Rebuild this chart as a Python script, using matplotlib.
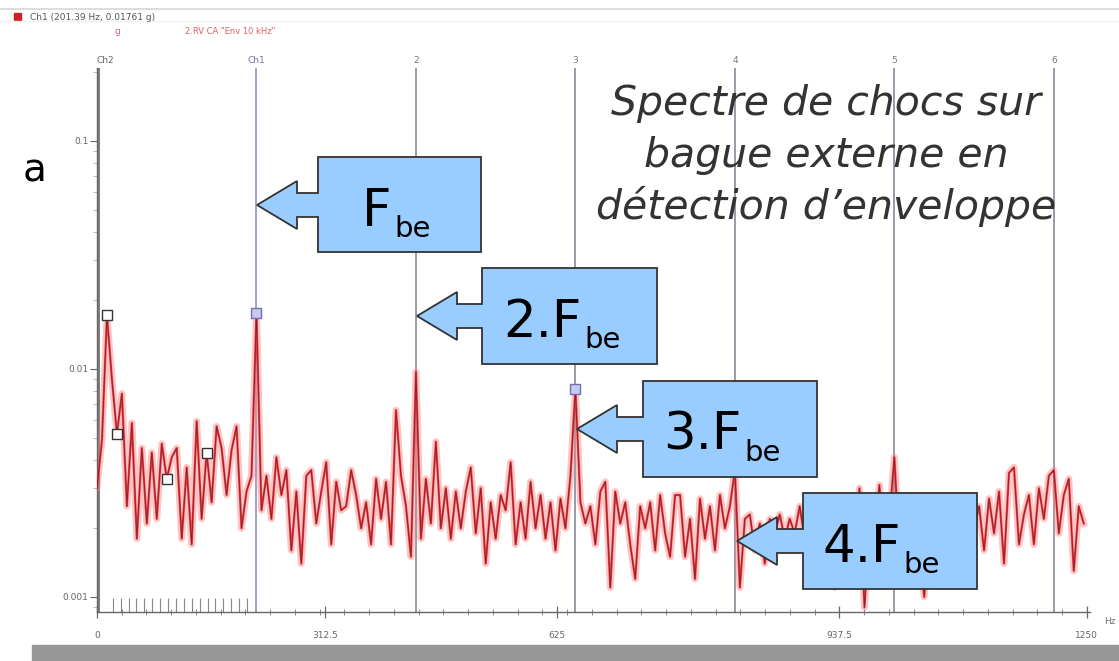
import numpy as np
import matplotlib
matplotlib.use("Agg")
import matplotlib.pyplot as plt
from matplotlib.patches import Polygon, Rectangle
from matplotlib.ticker import MultipleLocator, FixedLocator

plt.rcParams['font.family'] = ['DejaVu Sans']

W, H = 1119, 661

# ---- data -----------------------------------------------------------------
f_be = 201.39          # outer-race defect frequency (Hz)
f_be_amp = 0.01761     # amplitude at f_be (g)
df = f_be / 32         # spectral line spacing (Hz)

# envelope spectrum amplitude (g), one value per spectral line
amp = [
    0.0030, 0.0049, 0.0172, 0.0090, 0.0052, 0.0078, 0.0025, 0.0058, 0.0018, 0.0045,
    0.0021, 0.0043, 0.0022, 0.0047, 0.0033, 0.0041, 0.0045, 0.0018, 0.0037, 0.0017,
    0.0059, 0.0022, 0.0043, 0.0026, 0.0056, 0.0045, 0.0028, 0.0044, 0.0056, 0.0020,
    0.0029, 0.0034, f_be_amp, 0.0024, 0.0034, 0.0022, 0.0041, 0.0028, 0.0036, 0.0016,
    0.0029, 0.0014, 0.0034, 0.0036, 0.0021, 0.0029, 0.0039, 0.0017, 0.0032, 0.0024,
    0.0025, 0.0036, 0.0028, 0.0020, 0.0026, 0.0017, 0.0033, 0.0022, 0.0032, 0.0017,
    0.0066, 0.0034, 0.0025, 0.0015, 0.0097, 0.0018, 0.0033, 0.0021, 0.0048, 0.0020,
    0.0030, 0.0018, 0.0029, 0.0020, 0.0029, 0.0037, 0.0019, 0.0030, 0.0014, 0.0026,
    0.0018, 0.0028, 0.0024, 0.0039, 0.0017, 0.0026, 0.0018, 0.0032, 0.0020, 0.0028,
    0.0018, 0.0026, 0.0016, 0.0027, 0.0020, 0.0034, 0.0082, 0.0026, 0.0021, 0.0025,
    0.0017, 0.0029, 0.0032, 0.0011, 0.0029, 0.0021, 0.0026, 0.0017, 0.0012, 0.0025,
    0.0020, 0.0026, 0.0016, 0.0028, 0.0019, 0.0015, 0.0028, 0.0028, 0.0015, 0.0022,
    0.0012, 0.0027, 0.0018, 0.0025, 0.0016, 0.0028, 0.0020, 0.0025, 0.0036, 0.0011,
    0.0022, 0.0023, 0.0016, 0.0021, 0.0014, 0.0022, 0.0019, 0.0023, 0.0018, 0.0022,
    0.0019, 0.0025, 0.0018, 0.0024, 0.0016, 0.0022, 0.0015, 0.0021, 0.0011, 0.0020,
    0.0016, 0.0023, 0.0014, 0.0030, 0.0009, 0.0021, 0.0017, 0.0031, 0.0015, 0.0022,
    0.0041, 0.0016, 0.0022, 0.0015, 0.0023, 0.0017, 0.0010, 0.0022, 0.0016, 0.0024,
    0.0018, 0.0025, 0.0017, 0.0026, 0.0019, 0.0027, 0.0020, 0.0025, 0.0016, 0.0027,
    0.0019, 0.0029, 0.0014, 0.0035, 0.0037, 0.0017, 0.0023, 0.0028, 0.0017, 0.0030,
    0.0022, 0.0034, 0.0036, 0.0019, 0.0028, 0.0033, 0.0013, 0.0025, 0.0021,
]
freq = np.arange(len(amp)) * df

harm_orders = [1, 2, 3, 4, 5, 6]
harm_labels = ['Ch1', '2', '3', '4', '5', '6']
ch2_freq = 2.5
ch2_fund = 9.97
ch2_orders = list(range(2, 20))
ch2_marker_idx = [2, 4, 14, 22]
ch1_marker_idx = [32, 96]

xtick_pos = [0, 288, 581, 937.5, 1250]
xtick_labels = ['0', '312.5', '625', '937.5', '1250']
ytick_pos = [0.001, 0.01, 0.1]
ytick_labels = ['0.001', '0.01', '0.1']

callout_main = ['F', '2.F', '3.F', '4.F']
callout_sub = 'be'
title_lines = ['Spectre de chocs sur', 'bague externe en',
               'détection d\u2019enveloppe']

# ---- figure -----------------------------------------------------------------
fig = plt.figure(figsize=(W / 100, H / 100), dpi=100)
fig.patch.set_facecolor('white')

ax = fig.add_axes([97 / W, 1 - 612 / H, 993 / W, 544 / H])
ax.set_yscale('log')
ax.set_xlim(0, 1254)
ax.set_ylim(8.59e-4, 0.209)
for s in ('top', 'right'):
    ax.spines[s].set_visible(False)
for s in ('left', 'bottom'):
    ax.spines[s].set_color('#666666')
    ax.spines[s].set_linewidth(1.0)

# cursor lines
ax.axvline(ch2_freq, color='#666666', lw=1.2, zorder=1)
for k, lab in zip(harm_orders, harm_labels):
    c = '#a0a0cc' if k == 1 else '#9a9aa8'
    ax.axvline(k * f_be, color=c, lw=1.4, zorder=1)
    ax.text(k * f_be, 1.0147, lab, transform=ax.get_xaxis_transform(),
            ha='center', va='center', fontsize=6.5,
            color='#7070a0' if k == 1 else '#777777')
ax.text(11, 1.0147, 'Ch2', transform=ax.get_xaxis_transform(),
        ha='center', va='center', fontsize=6.5, color='#666666')

# Ch2 harmonic cursor ticks
ax.vlines([k * ch2_fund for k in ch2_orders], 0, 0.026,
          transform=ax.get_xaxis_transform(), color='#888888', lw=0.8)

# spectrum trace
ax.plot(freq, amp, color='#ff8080', lw=5.0, alpha=0.45, zorder=2,
        solid_joinstyle='round')
ax.plot(freq, amp, color='#e8303a', lw=1.6, alpha=0.9, zorder=3)
ax.plot(freq, amp, color='#5a1414', lw=0.6, alpha=0.7, zorder=4)

# markers
amp_arr = np.array(amp)
ax.plot(freq[ch2_marker_idx], amp_arr[ch2_marker_idx], 's', ms=7,
        mfc='white', mec='#333333', mew=1.0, zorder=5)
ax.plot(freq[ch1_marker_idx], amp_arr[ch1_marker_idx], 's', ms=7,
        mfc='#c8c8f0', mec='#7070b8', mew=1.0, zorder=5)

# ticks
ax.yaxis.set_major_locator(FixedLocator(ytick_pos))
ax.set_yticklabels(ytick_labels)
ax.tick_params(axis='y', which='major', length=5, width=0.8, color='#666666',
               labelsize=6.5, labelcolor='#666666', pad=1)
ax.tick_params(axis='y', which='minor', length=3, width=0.6, color='#aaaaaa',
               labelleft=False)
ax.xaxis.set_major_locator(FixedLocator(xtick_pos))
ax.set_xticklabels(xtick_labels)
ax.xaxis.set_minor_locator(MultipleLocator(31.25))
ax.tick_params(axis='x', which='major', direction='inout', length=9, width=0.9,
               color='#666666', labelsize=6.5, labelcolor='#666666', pad=9)
ax.tick_params(axis='x', which='minor', direction='inout', length=5, width=0.7,
               color='#888888')

# ---- overlay: header, annotations -------------------------------------------
ov = fig.add_axes([0, 0, 1, 1], zorder=10)
ov.set_xlim(0, W)
ov.set_ylim(H, 0)
ov.axis('off')
ov.patch.set_alpha(0)

ov.text(1104, 622, 'Hz', fontsize=6.5, color='#777777', ha='left', va='center')

ov.plot([0, W], [9, 9], color='#dddddd', lw=1.5)
ov.plot([0, W], [21, 21], color='#f0f0f0', lw=1.0)
ov.add_patch(Rectangle((14, 13), 7, 7, color='#cc2222'))
ov.text(30, 17, 'Ch1 (201.39 Hz, 0.01761 g)', fontsize=6.5, color='#555555',
        va='center', ha='left')
ov.text(117, 32, 'g', fontsize=6.5, color='#c07070', va='center', ha='center')
ov.text(185, 32, '2.RV CA "Env 10 kHz"', fontsize=6, color='#e06060',
        va='center', ha='left')

ov.text(23, 181, 'a', fontsize=28, color='black', va='baseline', ha='left')

for line, yb in zip(title_lines, [115, 167, 219]):
    ov.text(826, yb, line, fontsize=29.5, style='italic', color='#333333',
            ha='center', va='baseline')

fig.canvas.draw()
renderer = fig.canvas.get_renderer()


def callout(tip_x, cy, base_x, x0, x1, y0, y1, main, text_x):
    hh, sh = 24, 12
    pts = [(tip_x, cy), (base_x, cy - hh), (base_x, cy - sh), (x0, cy - sh),
           (x0, y0), (x1, y0), (x1, y1), (x0, y1), (x0, cy + sh),
           (base_x, cy + sh), (base_x, cy + hh)]
    ov.add_patch(Polygon(pts, closed=True, facecolor='#99ccff',
                         edgecolor='#333333', lw=1.3))
    t = ov.text(text_x, cy + 21, main, fontsize=37, color='black',
                ha='left', va='baseline')
    bb = t.get_window_extent(renderer=renderer)
    x_end = ov.transData.inverted().transform((bb.x1, bb.y0))[0]
    ov.text(x_end + 3, cy + 32, callout_sub, fontsize=21, color='black',
            ha='left', va='baseline')


callout(257, 205, 297, 318, 481, 157, 252, callout_main[0], 362)
callout(417, 316, 457, 482, 657, 268, 364, callout_main[1], 503)
callout(577, 429, 617, 643, 817, 381, 477, callout_main[2], 663)
callout(737, 541, 777, 803, 977, 493, 589, callout_main[3], 822)

ov.add_patch(Rectangle((32, 645), W - 32, 16, color='#969696'))

fig.savefig('out.png', dpi=100)
